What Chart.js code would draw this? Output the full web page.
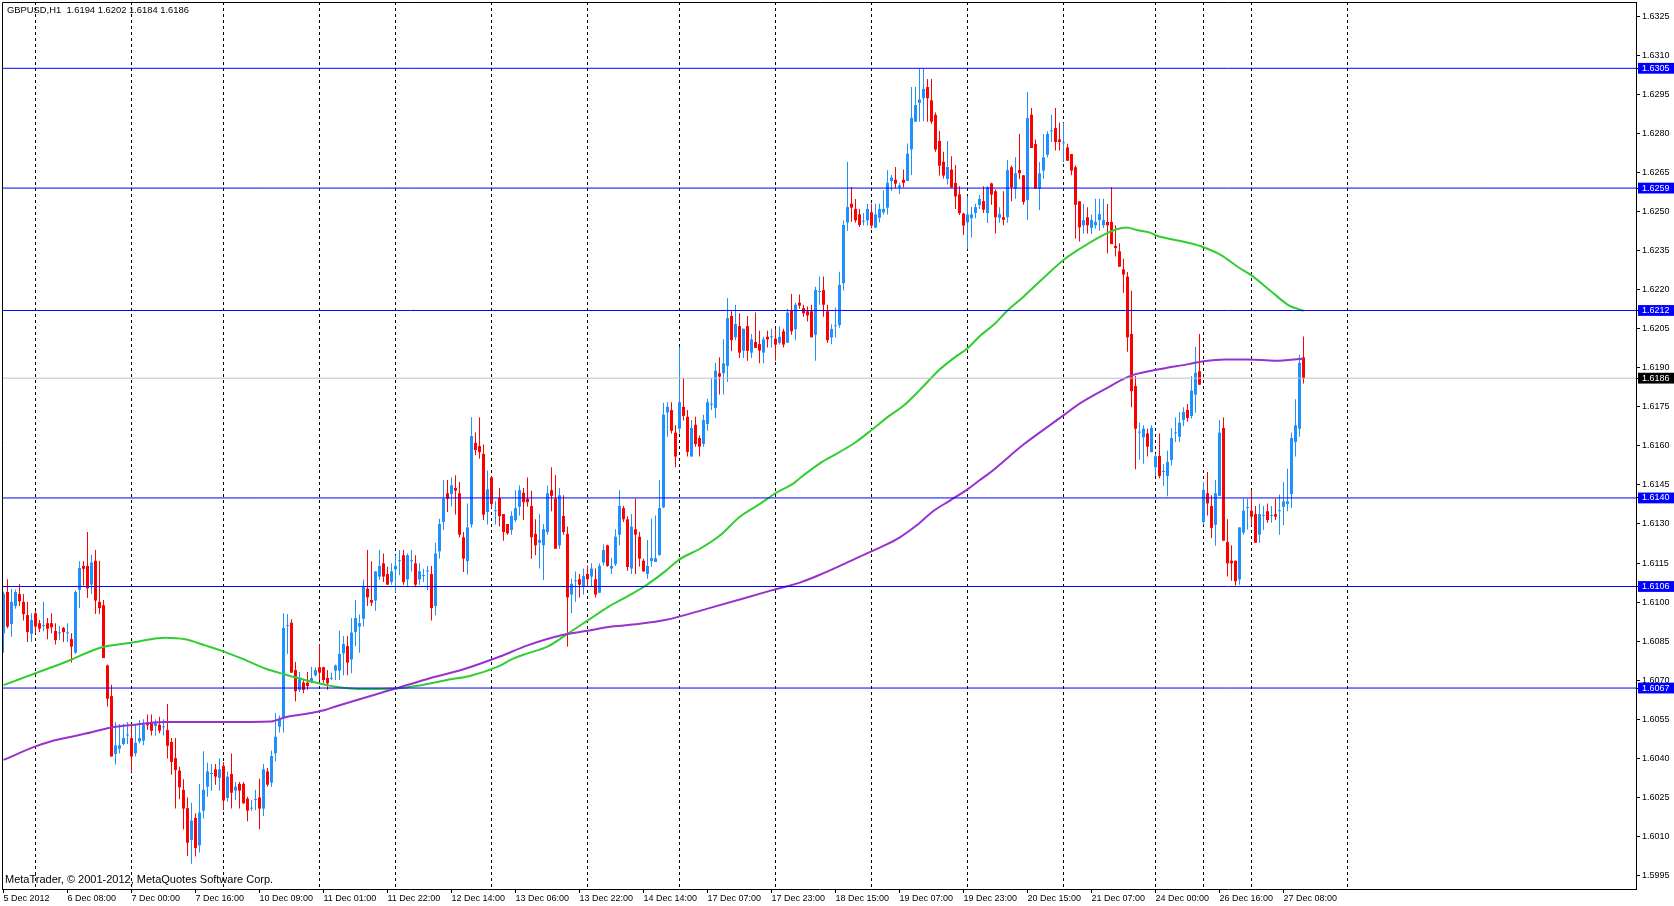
<!DOCTYPE html>
<html><head><meta charset="utf-8">
<script src="https://cdn.jsdelivr.net/npm/chart.js@4.4.1/dist/chart.umd.min.js"></script>
<style>html,body{margin:0;padding:0;background:#fff;overflow:hidden}#wrap{width:1674px;height:906px;position:relative}</style>
</head><body><div id="wrap"><canvas id="c" width="1674" height="906"></canvas></div>
<script>
// ---- GBPUSD H1 candles (bar index 0 = 5 Dec 2012 16:00) ----
const OPEN = [
1.6088,1.61039,1.60916,1.60985,1.61031,1.61001,1.6095,1.60878,1.60957,1.60919,
1.60908,1.60919,1.60919,1.60889,1.6088,1.60901,1.6088,1.60858,1.60806,1.61047,
1.61139,1.61139,1.61067,1.61159,1.61001,1.60988,1.60757,1.60639,1.60417,1.60437,
1.60455,1.60488,1.60478,1.60419,1.60465,1.60468,1.60537,1.6054,1.60524,1.60529,
1.60519,1.60509,1.60463,1.60401,1.60353,1.60279,1.60209,1.60087,1.60171,1.60066,
1.60199,1.60291,1.6034,1.60358,1.60325,1.60371,1.60248,1.6034,1.60276,1.60302,
1.60302,1.60245,1.60207,1.6024,1.6025,1.60207,1.6035,1.60307,1.60419,1.60522,
1.60553,1.60908,1.60921,1.60739,1.60663,1.60691,1.60691,1.60693,1.60719,1.6075,
1.6075,1.60709,1.60705,1.60737,1.60737,1.60803,1.60831,1.6078,1.60885,1.60906,
1.60936,1.61052,1.61008,1.61006,1.61098,1.61149,1.61108,1.61077,1.61126,1.61157,
1.6118,1.61087,1.61157,1.61149,1.61087,1.611,1.61118,1.61108,1.60985,1.61195,
1.61308,1.61418,1.61415,1.61438,1.61418,1.61249,1.61157,1.61298,1.61612,1.61599,
1.61569,1.61346,1.61479,1.61349,1.614,1.61338,1.613,1.61277,1.61315,1.61366,
1.6142,1.61397,1.61369,1.61262,1.61228,1.61218,1.61269,1.6143,1.61397,1.61218,
1.61331,1.61262,1.61029,1.6108,1.61088,1.61059,1.61108,1.61098,1.61088,1.61036,
1.61152,1.61218,1.61129,1.61146,1.61259,1.61361,1.61318,1.61129,1.6128,1.61251,
1.61159,1.61108,1.61157,1.61154,1.6118,1.61364,1.61728,1.61738,1.61651,1.61666,
1.6175,1.61712,1.61559,1.61681,1.6163,1.61607,1.61684,1.61758,1.61745,1.61879,
1.61879,1.61907,1.62099,1.62017,1.6206,1.61965,1.6206,1.61958,1.61999,1.61991,
1.61958,1.62019,1.62017,1.62012,1.61996,1.6204,1.61996,1.62119,1.62048,1.6215,
1.62129,1.62117,1.62117,1.62027,1.62191,1.62199,1.62117,1.62016,1.62059,1.62064,
1.62225,1.62458,1.6253,1.6251,1.62489,1.62461,1.62466,1.62497,1.62438,1.62476,
1.62497,1.62515,1.62617,1.62622,1.62592,1.62622,1.62617,1.62738,1.62845,1.62917,
1.62935,1.62978,1.62927,1.62871,1.62771,1.62691,1.62625,1.62661,1.6261,1.62566,
1.62492,1.62458,1.62474,1.62494,1.62525,1.6254,1.62494,1.62608,1.62578,1.62475,
1.62478,1.62478,1.6267,1.62588,1.62659,1.62639,1.62544,1.62872,1.62759,1.62588,
1.62657,1.62718,1.62808,1.62821,1.62777,1.62762,1.62746,1.62721,1.6267,1.62539,
1.62447,1.62478,1.62437,1.62447,1.62467,1.62447,1.6246,1.6246,1.62368,1.62347,
1.62278,1.6225,1.6203,1.6183,1.61651,1.61633,1.61648,1.61576,1.61518,1.61561,
1.615,1.61484,1.61546,1.61648,1.61635,1.61699,1.61738,1.61715,1.61797,1.61886,
1.61308,1.61418,1.61369,1.61297,1.61408,1.61669,1.61231,1.61159,1.61159,1.61087,
1.61267,1.61361,1.61351,1.61338,1.61259,1.61331,1.61349,1.61331,1.61338,1.61349,
1.61366,1.61377,1.61415,1.61615,1.61666,1.6194];
const HIGH = [
1.6104,1.61088,1.6105,1.61048,1.6107,1.61031,1.61001,1.60957,1.60965,1.60931,
1.61001,1.60939,1.60957,1.60919,1.60908,1.60904,1.60919,1.6088,1.61045,1.61157,
1.61157,1.61269,1.61182,1.612,1.61159,1.61008,1.6076,1.60683,1.6054,1.60532,
1.60532,1.6054,1.60532,1.6053,1.60547,1.6055,1.60568,1.60568,1.6055,1.6056,
1.6055,1.60609,1.60478,1.60478,1.60368,1.6032,1.6025,1.6023,1.60189,1.60302,
1.60427,1.60384,1.60378,1.60378,1.60399,1.60386,1.6035,1.60419,1.60309,1.60309,
1.60309,1.60253,1.6024,1.60279,1.60322,1.60378,1.60363,1.6043,1.60573,1.60565,
1.60957,1.60954,1.60934,1.6077,1.60732,1.60701,1.60732,1.60752,1.6075,1.60839,
1.60752,1.60739,1.60729,1.6076,1.6089,1.6087,1.6087,1.60939,1.61008,1.60952,
1.61087,1.612,1.61157,1.61118,1.612,1.61187,1.61136,1.61149,1.6118,1.612,
1.612,1.61187,1.612,1.6118,1.61149,1.61128,1.61139,1.61139,1.61228,1.6132,
1.61469,1.61469,1.61479,1.61487,1.61461,1.61269,1.61379,1.6171,1.61651,1.6171,
1.61605,1.61505,1.61482,1.61387,1.61438,1.61338,1.613,1.61349,1.6143,1.61448,
1.61438,1.61479,1.61428,1.61318,1.61338,1.613,1.61448,1.61518,1.61487,1.61438,
1.6141,1.6129,1.6109,1.61118,1.61108,1.61129,1.61141,1.61149,1.61129,1.61149,
1.61221,1.6122,1.61169,1.6128,1.6143,1.61369,1.6133,1.61338,1.61397,1.61269,
1.61167,1.61239,1.6132,1.61333,1.61469,1.61766,1.61768,1.61768,1.61679,1.61981,
1.61861,1.61738,1.61699,1.61712,1.6164,1.6172,1.61781,1.61861,1.61919,1.6194,
1.62009,1.62168,1.62117,1.62142,1.62109,1.6205,1.62099,1.6203,1.62112,1.62042,
1.62019,1.62042,1.6205,1.6205,1.62058,1.6205,1.62127,1.62183,1.6215,1.62181,
1.62142,1.62135,1.62142,1.62211,1.6225,1.6225,1.62142,1.62067,1.62131,1.62269,
1.62466,1.62691,1.62594,1.62548,1.6251,1.62494,1.6253,1.6253,1.6253,1.6253,
1.62581,1.62658,1.6264,1.62671,1.6261,1.62661,1.62761,1.62978,1.62978,1.6305,
1.6305,1.63009,1.63009,1.6288,1.62809,1.6273,1.62771,1.62712,1.62679,1.62597,
1.62495,1.62558,1.62517,1.6253,1.62563,1.62597,1.62597,1.6261,1.62585,1.62516,
1.62578,1.62698,1.62677,1.62708,1.62798,1.6264,1.62959,1.62898,1.62777,1.6269,
1.62798,1.62808,1.62872,1.62898,1.62841,1.62841,1.6276,1.62721,1.62677,1.62539,
1.62529,1.62516,1.62488,1.62549,1.62549,1.62549,1.62529,1.62593,1.62447,1.62378,
1.62319,1.62268,1.62196,1.61868,1.61689,1.61679,1.61666,1.61679,1.6157,1.61648,
1.6153,1.61582,1.61669,1.61709,1.6173,1.61748,1.61761,1.61868,1.61981,1.6203,
1.61461,1.615,1.6141,1.61469,1.61699,1.61709,1.61318,1.61218,1.61159,1.61287,
1.61397,1.61397,1.61431,1.61369,1.61379,1.61369,1.61379,1.61369,1.61397,1.61413,
1.61461,1.61512,1.61651,1.61779,1.6195,1.6202];
const LOW = [
1.60806,1.609,1.60867,1.60975,1.60985,1.60929,1.60847,1.60847,1.6088,1.60885,
1.60888,1.60857,1.6088,1.60837,1.60854,1.60847,1.60847,1.60768,1.60802,1.60977,
1.61064,1.61016,1.61031,1.60954,1.60954,1.60785,1.60599,1.60407,1.60376,1.60419,
1.6045,1.60455,1.60348,1.60407,1.60458,1.6045,1.60509,1.60488,1.60488,1.60496,
1.60488,1.60399,1.60337,1.60207,1.60243,1.60127,1.60025,1.59995,1.60023,1.60038,
1.60169,1.60253,1.60276,1.60299,1.60276,1.60202,1.60233,1.60207,1.6024,1.60207,
1.60227,1.60158,1.60199,1.60202,1.60128,1.60179,1.60291,1.60291,1.60389,1.60499,
1.60499,1.60801,1.60729,1.60619,1.60655,1.6065,1.60663,1.60688,1.60714,1.60701,
1.60688,1.60663,1.60701,1.60701,1.60701,1.60719,1.60719,1.60727,1.60831,1.60806,
1.60906,1.60985,1.60985,1.60967,1.61085,1.61077,1.61067,1.61067,1.61036,1.61103,
1.61067,1.61057,1.61118,1.61057,1.61067,1.61077,1.61047,1.60929,1.6095,1.61167,
1.61277,1.61346,1.61367,1.61336,1.61249,1.61116,1.61106,1.61287,1.61564,1.61551,
1.61315,1.61298,1.6136,1.61298,1.6129,1.61236,1.61259,1.61259,1.61308,1.61333,
1.61315,1.61366,1.61167,1.6118,1.61129,1.61085,1.61259,1.61349,1.61205,1.61205,
1.61259,1.60829,1.60957,1.61001,1.61018,1.61029,1.61059,1.61059,1.61018,1.61036,
1.61141,1.61136,1.61108,1.61139,1.61218,1.61308,1.6112,1.61108,1.61108,1.61136,
1.61118,1.6109,1.61136,1.61154,1.6118,1.6136,1.61635,1.61648,1.61518,1.61648,
1.61697,1.61559,1.61559,1.61597,1.61559,1.61597,1.61658,1.61738,1.61707,1.61797,
1.61797,1.61845,1.61963,1.62006,1.61937,1.61937,1.61927,1.61937,1.61976,1.61917,
1.61917,1.61978,1.61978,1.61927,1.61989,1.61978,1.61996,1.62027,1.62006,1.62127,
1.62096,1.62078,1.62017,1.61927,1.62142,1.62096,1.61996,1.6199,1.62016,1.62054,
1.62197,1.62425,1.62461,1.62458,1.62441,1.62446,1.62446,1.62435,1.62438,1.62458,
1.62489,1.62489,1.62579,1.62589,1.62566,1.62592,1.62617,1.6264,1.62845,1.62845,
1.62848,1.62845,1.62837,1.6273,1.62638,1.62627,1.62604,1.62592,1.6251,1.62487,
1.6241,1.62356,1.624,1.62474,1.6251,1.62494,1.62456,1.62526,1.62416,1.62457,
1.62447,1.62457,1.62539,1.62549,1.62624,1.62526,1.62467,1.62744,1.62588,1.62506,
1.62626,1.62708,1.62767,1.62734,1.62734,1.6269,1.62695,1.62639,1.62396,1.62385,
1.62416,1.62416,1.62414,1.62434,1.62426,1.62437,1.62339,1.62375,1.62327,1.62288,
1.62188,1.61961,1.61748,1.6151,1.61546,1.61531,1.61559,1.61576,1.61484,1.61476,
1.61446,1.61407,1.61525,1.61615,1.61615,1.61676,1.61694,1.61705,1.61727,1.61835,
1.61297,1.61333,1.61246,1.61216,1.61408,1.61236,1.61098,1.61082,1.61064,1.61067,
1.61259,1.61279,1.61295,1.61228,1.61228,1.61277,1.61305,1.61305,1.61315,1.61259,
1.61295,1.61349,1.61361,1.61559,1.61635,1.6184];
const CLOSE = [
1.61031,1.60906,1.61001,1.61039,1.61003,1.60954,1.60885,1.60931,1.60906,1.60898,
1.60908,1.60898,1.60903,1.60854,1.6088,1.60885,1.6088,1.60829,1.61039,1.61131,
1.61128,1.61053,1.61152,1.61006,1.60977,1.60785,1.60629,1.60407,1.6045,1.6045,
1.60478,1.60488,1.60407,1.6046,1.60478,1.60529,1.60527,1.60506,1.6054,1.60506,
1.60519,1.60448,1.60386,1.60355,1.60289,1.60207,1.60076,1.60161,1.60056,1.60192,
1.60279,1.6035,1.6034,1.6033,1.60358,1.60238,1.6033,1.60268,1.60291,1.60276,
1.60227,1.60199,1.60207,1.6024,1.60207,1.60358,1.60299,1.60409,1.60483,1.60553,
1.60901,1.60908,1.60729,1.60658,1.60704,1.60663,1.60678,1.60709,1.60739,1.60729,
1.60701,1.60688,1.60709,1.60757,1.60801,1.60839,1.60768,1.60883,1.60939,1.60919,
1.61059,1.61018,1.60998,1.61118,1.61139,1.61098,1.61067,1.61118,1.61139,1.61157,
1.61077,1.6118,1.61157,1.61067,1.61118,1.611,1.61118,1.60977,1.61187,1.613,
1.61397,1.61397,1.61448,1.61428,1.61259,1.61167,1.61287,1.61638,1.61584,1.61576,
1.61336,1.61433,1.61377,1.61349,1.6133,1.61269,1.61264,1.61331,1.61361,1.6143,
1.61384,1.61384,1.61249,1.61218,1.61239,1.6128,1.61418,1.61408,1.61205,1.6141,
1.61269,1.61018,1.6107,1.6108,1.61067,1.611,1.61088,1.61129,1.61029,1.61139,
1.612,1.61139,1.61139,1.61251,1.61369,1.61318,1.61135,1.6129,1.61259,1.61167,
1.61118,1.61139,1.61169,1.61169,1.61361,1.6172,1.6175,1.61658,1.61559,1.61768,
1.61715,1.61577,1.61669,1.61607,1.61597,1.61699,1.61768,1.61758,1.61889,1.61866,
1.61917,1.62091,1.62006,1.62068,1.61958,1.6205,1.61965,1.62009,1.61976,1.61966,
1.62009,1.62009,1.62017,1.61989,1.62019,1.61989,1.62112,1.6204,1.62142,1.62139,
1.62109,1.62101,1.62017,1.62199,1.62191,1.62142,1.62006,1.62049,1.62059,1.62218,
1.62448,1.62517,1.62515,1.62466,1.62448,1.62461,1.6251,1.62446,1.62489,1.6251,
1.6251,1.6261,1.6263,1.62607,1.626,1.6261,1.62722,1.6286,1.62909,1.6293,
1.62971,1.62935,1.62845,1.62738,1.62676,1.62638,1.62671,1.62592,1.62558,1.62494,
1.62446,1.62489,1.62489,1.62517,1.62548,1.62507,1.62594,1.62565,1.62478,1.6249,
1.62468,1.62659,1.62593,1.62647,1.62647,1.62537,1.62859,1.62744,1.62588,1.62647,
1.62708,1.62798,1.62808,1.62767,1.62767,1.62762,1.62695,1.62657,1.62526,1.62439,
1.62467,1.62447,1.62467,1.6246,1.6249,1.62467,1.62447,1.62375,1.6236,1.62288,
1.62258,1.62017,1.6181,1.61666,1.61651,1.61666,1.61597,1.61669,1.6156,1.61484,
1.615,1.61538,1.6163,1.61648,1.61689,1.6173,1.61707,1.61812,1.61881,1.61835,
1.61431,1.61379,1.61285,1.61418,1.61651,1.61236,1.61149,1.61149,1.6108,1.61287,
1.61351,1.61361,1.61328,1.61228,1.61338,1.61331,1.61315,1.61331,1.61328,1.61349,
1.61387,1.61387,1.6163,1.61679,1.61919,1.6186];

// ---- moving averages, sampled (bar position -> value) ----
const MA_GREEN_X = [0,8,16,24,32,40.4,45.4,50.4,55,60.4,65.4,70.4,75.4,80.4,83,90,98,104,110.8,116.6,124,127,131,136,141.2,146,151.2,156.2,160.4,165.4,169,174.1,179.1,184.1,189.1,193,197.5,199.1,204.1,209.1,213.3,217,221.6,224.9,229.1,234.1,237.4,241,244.1,247.9,250.8,255,259.1,265,269.1,274.1,278.3,280.8,283.3,286.6,288,296.2,300,304.5,308.7,312,317.1,321.3,325];
const MA_GREEN_Y = [1.60681,1.60727,1.60773,1.60824,1.60844,1.60863,1.60857,1.60834,1.60811,1.60778,1.60745,1.60722,1.60701,1.60683,1.60675,1.60666,1.60668,1.6068,1.60701,1.60716,1.60755,1.6078,1.60803,1.60829,1.6088,1.60929,1.60982,1.61024,1.61062,1.61118,1.61164,1.61205,1.61256,1.61328,1.61377,1.61418,1.61456,1.61476,1.61533,1.61577,1.61617,1.61661,1.61717,1.61753,1.61815,1.61894,1.61935,1.61975,1.62022,1.6207,1.62117,1.62173,1.62232,1.62314,1.62357,1.62403,1.62432,1.62439,1.62429,1.62419,1.62409,1.6238,1.62363,1.62332,1.62286,1.62255,1.62191,1.6214,1.62119];
const MA_PURPLE_X = [0,8,12,16,22,26,32,40,47,55,67,70.4,75.4,80.4,83,98,105.8,115,124.1,131,139.5,146,152,158.7,165.4,176,192,199.1,204.1,209.1,214.1,220,224.1,228.3,232.4,236.6,241,244.1,246.6,255,265,269.1,275,281.6,287.9,296.2,300,305.4,311.2,317.9,325];
const MA_PURPLE_Y = [1.60394,1.60446,1.60466,1.6048,1.605,1.60516,1.60528,1.6054,1.6054,1.6054,1.60542,1.60558,1.6057,1.60586,1.60599,1.60668,1.60704,1.60742,1.60791,1.60834,1.60873,1.6089,1.60906,1.60916,1.60931,1.60975,1.61045,1.61075,1.61105,1.61139,1.61175,1.61216,1.61249,1.61295,1.61349,1.6139,1.61433,1.61469,1.61497,1.61605,1.61717,1.61763,1.61815,1.61868,1.61891,1.61914,1.61925,1.61932,1.61932,1.61927,1.61935];

// ---- axes / annotations ----
const X_LABEL_BARS = [0,16,32,48,64,80,96,112,128,144,160,176,192,208,224,240,256,272,288,304,320];
const X_LABELS = ['5 Dec 2012','6 Dec 08:00','7 Dec 00:00','7 Dec 16:00','10 Dec 09:00','11 Dec 01:00','11 Dec 22:00','12 Dec 14:00','13 Dec 06:00','13 Dec 22:00','14 Dec 14:00','17 Dec 07:00','17 Dec 23:00','18 Dec 15:00','19 Dec 07:00','19 Dec 23:00','20 Dec 15:00','21 Dec 07:00','24 Dec 00:00','26 Dec 16:00','27 Dec 08:00'];
const DAY_START_BARS = [8,32,55,79,98,122,146,169,193,217,241,265,288,300,312,336];
const Y_TICKS = [1.5995,1.6010,1.6025,1.6040,1.6055,1.6070,1.6085,1.6100,1.6115,1.6130,1.6145,1.6160,1.6175,1.6190,1.6205,1.6220,1.6235,1.6250,1.6265,1.6280,1.6295,1.6310,1.6325];
const LEVELS = [1.6305,1.6259,1.6212,1.6140,1.6106,1.6067];
const LAST_PRICE = 1.6186;
const HEADER = 'GBPUSD,H1  1.6194 1.6202 1.6184 1.6186';
const FOOTER = 'MetaTrader, \u00A9 2001-2012, MetaQuotes Software Corp.';

const X_MIN = -0.375, X_MAX = 408.125;
const Y_MIN = 1.598983, Y_MAX = 1.633046;
const UP = '#1E90FF', DOWN = '#FF0000';
const FONT = 'Liberation Sans, Arial, sans-serif';

const idx = OPEN.map((_, i) => i);
const candleColor = ctx => (CLOSE[ctx.dataIndex] >= OPEN[ctx.dataIndex] ? UP : DOWN);

const gridData = [];
DAY_START_BARS.forEach(b => { gridData.push({x: b, y: Y_MAX}, {x: b, y: Y_MIN}, {x: b, y: null}); });

const hline = (v, color, order) => ({
  type: 'line', data: [{x: X_MIN, y: v}, {x: X_MAX, y: v}], borderColor: color, borderWidth: 1,
  pointRadius: 0, order: order
});

const datasets = [
  {type: 'line', data: gridData, borderColor: '#000', borderWidth: 1, borderDash: [3, 3], pointRadius: 0, spanGaps: false, order: 20},
  {type: 'bar', data: idx.map(i => ({x: i, y: [LOW[i], HIGH[i]]})), backgroundColor: candleColor, barThickness: 1, grouped: false, inflateAmount: 0, borderWidth: 0, order: 12},
  {type: 'bar', data: idx.map(i => ({x: i, y: [OPEN[i], CLOSE[i]]})), backgroundColor: candleColor, barThickness: 3, minBarLength: 1, grouped: false, inflateAmount: 0, borderWidth: 0, order: 11},
  {type: 'line', data: MA_GREEN_X.map((x, k) => ({x: x, y: MA_GREEN_Y[k]})), borderColor: '#32CD32', borderWidth: 2, pointRadius: 0, cubicInterpolationMode: 'monotone', order: 6},
  {type: 'line', data: MA_PURPLE_X.map((x, k) => ({x: x, y: MA_PURPLE_Y[k]})), borderColor: '#9932CC', borderWidth: 2, pointRadius: 0, cubicInterpolationMode: 'monotone', order: 5},
  hline(LAST_PRICE, '#C0C0C0', 4)
].concat(LEVELS.map(v => hline(v, '#0000FF', 2)));

const isLevel = v => LEVELS.some(l => Math.abs(l - v) < 1e-9);
const isLast = v => Math.abs(v - LAST_PRICE) < 1e-9;

const framePlugin = {
  id: 'frame',
  afterDraw(chart) {
    const {ctx, chartArea: a} = chart;
    ctx.save();
    ctx.strokeStyle = '#000'; ctx.lineWidth = 1;
    ctx.beginPath();
    ctx.moveTo(a.left + 0.5, a.bottom); ctx.lineTo(a.left + 0.5, a.top + 0.5); ctx.lineTo(a.right, a.top + 0.5);
    ctx.stroke();
    ctx.fillStyle = '#000';
    ctx.textBaseline = 'middle'; ctx.textAlign = 'left';
    ctx.font = '9.4px ' + FONT;
    ctx.fillText(HEADER, 7, 10.5);
    ctx.font = '11px ' + FONT;
    ctx.fillText(FOOTER, 5, 880);
    ctx.restore();
  }
};

new Chart(document.getElementById('c'), {
  type: 'bar',
  data: {datasets: datasets},
  options: {
    responsive: false, animation: false, devicePixelRatio: 1, events: [],
    layout: {padding: {left: 2, top: 2, right: 0, bottom: 0}},
    plugins: {legend: {display: false}, tooltip: {enabled: false}},
    scales: {
      x: {
        type: 'linear', position: 'bottom', min: X_MIN, max: X_MAX, offset: false, bounds: 'data',
        grid: {display: true, drawOnChartArea: false, drawTicks: true, tickLength: 4, color: '#000', offset: false},
        border: {display: true, color: '#000', width: 1},
        ticks: {autoSkip: false, maxRotation: 0, minRotation: 0, align: 'start', padding: 0, color: '#000',
          font: {family: FONT, size: 9},
          callback: (v, i) => X_LABELS[i]},
        afterBuildTicks: s => { s.ticks = X_LABEL_BARS.map(v => ({value: v})); },
        afterFit: s => { s.height = 17; s.paddingLeft = 0; s.paddingRight = 0; }
      },
      y: {
        type: 'linear', position: 'right', min: Y_MIN, max: Y_MAX, bounds: 'data',
        grid: {display: true, drawOnChartArea: false, drawTicks: true, tickLength: 4, color: '#000'},
        border: {display: true, color: '#000', width: 1},
        ticks: {autoSkip: false, padding: 2,
          font: {family: FONT, size: 9},
          color: c => (c.tick && (isLevel(c.tick.value) || isLast(c.tick.value)) ? '#FFFFFF' : '#000000'),
          showLabelBackdrop: c => !!(c.tick && (isLevel(c.tick.value) || isLast(c.tick.value))),
          backdropColor: c => (c.tick && isLast(c.tick.value) ? '#000000' : '#0000FF'),
          backdropPadding: {left: 4, right: 6, top: 0, bottom: 0},
          callback: v => Number(v).toFixed(4)},
        afterBuildTicks: s => { s.ticks = Y_TICKS.concat(LEVELS, [LAST_PRICE]).map(v => ({value: v})); },
        afterFit: s => { s.width = 38; s.paddingTop = 0; s.paddingBottom = 0; }
      }
    }
  },
  plugins: [framePlugin]
});
</script>
</body></html>
